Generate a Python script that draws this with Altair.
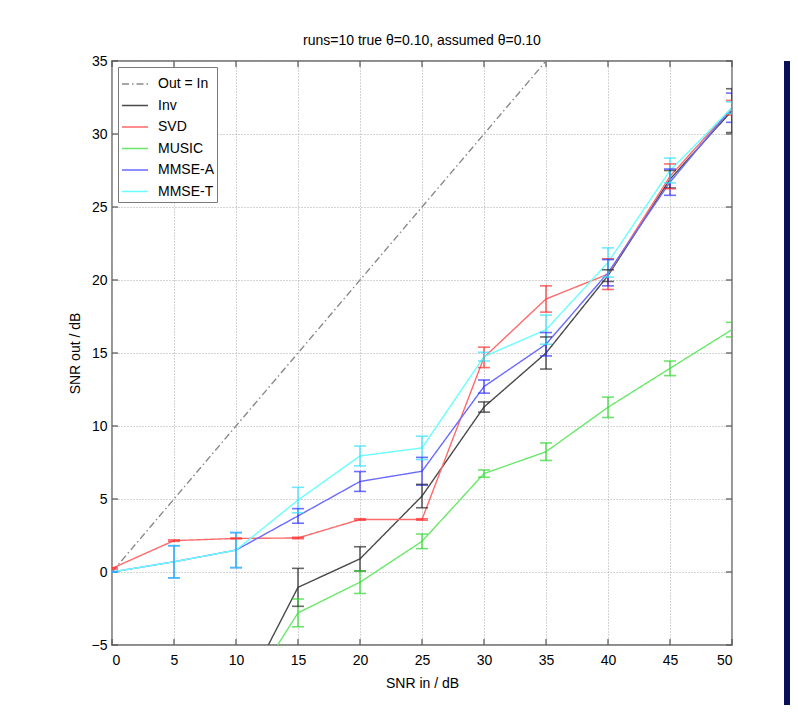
import altair as alt
import pandas as pd

FONT = "Liberation Sans"

# ---------------- data ----------------
snr = [0, 5, 10, 15, 20, 25, 30, 35, 40, 45, 50]
snr_low_cut = [10, 15, 20, 25, 30, 35, 40, 45, 50]

ref_x = [0, 35]
ref_y = [0, 35]

inv = [-9.3, -1.05, 0.9, 5.2, 11.3, 15.0, 20.3, 26.9, 31.6]
inv_err = [1.5, 1.3, 0.83, 0.8, 0.35, 1.1, 0.4, 0.6, 1.5]

svd = [0.25, 2.15, 2.3, 2.33, 3.6, 3.6, 14.7, 18.7, 20.4, 27.1, 31.8]
svd_err = [0.05, 0.05, 0.03, 0.05, 0.05, 0.05, 0.7, 0.9, 1.05, 0.85, 0.5]

music = [-9.5, -2.8, -0.7, 2.1, 6.74, 8.24, 11.28, 13.95, 16.6]
music_err = [1.5, 0.95, 0.77, 0.5, 0.25, 0.6, 0.7, 0.5, 0.5]

mmse_a = [0.0, 0.7, 1.5, 3.84, 6.2, 6.9, 12.7, 15.6, 20.5, 26.7, 31.8]
mmse_a_err = [0.0, 1.1, 1.2, 0.5, 0.68, 0.95, 0.45, 0.8, 0.9, 0.9, 1.0]

mmse_t = [0.0, 0.7, 1.5, 4.93, 7.95, 8.5, 14.75, 16.6, 21.2, 27.5, 31.8]
mmse_t_err = [0.0, 1.1, 1.2, 0.87, 0.68, 0.8, 0.3, 1.0, 1.0, 0.85, 0.4]

series_names = ["Out = In", "Inv", "SVD", "MUSIC", "MMSE-A", "MMSE-T"]
line_colors = ["#8a8a8a", "#4a4a4a", "#ff6a6a", "#6ae86a", "#6a6aff", "#6affff"]
err_colors = ["#8a8a8a", "#2a2a2a", "#ff3030", "#30d830", "#3030ff", "#30e0ff"]
dashes = [[7, 3, 1.5, 3], [1, 0], [1, 0], [1, 0], [1, 0], [1, 0]]

x_ticks = [0, 5, 10, 15, 20, 25, 30, 35, 40, 45, 50]
y_ticks = [-5, 0, 5, 10, 15, 20, 25, 30, 35]

title_text = "runs=10 true \u03b8=0.10, assumed \u03b8=0.10"

# ---------------- tables ----------------
rows = []
errs = []
def add(name, xs, ys, es=None):
    for i, (xv, yv) in enumerate(zip(xs, ys)):
        rows.append({"series": name, "x": xv, "y": yv, "order": i})
        if es is not None:
            e = es[i]
            if yv - e > -5:
                errs.append({"series": name, "x": xv, "lo": yv - e, "hi": yv + e})

add("Out = In", ref_x, ref_y)
add("Inv", snr_low_cut, inv, inv_err)
add("SVD", snr, svd, svd_err)
add("MUSIC", snr_low_cut, music, music_err)
add("MMSE-A", snr, mmse_a, mmse_a_err)
add("MMSE-T", snr, mmse_t, mmse_t_err)

lines_df = pd.DataFrame(rows)
err_df = pd.DataFrame(errs)
xt_df = pd.DataFrame({"t": x_ticks})
yt_df = pd.DataFrame({"t": y_ticks})

W, H = 620, 584

xscale = alt.Scale(domain=[0, 50], nice=False, zero=False)
yscale = alt.Scale(domain=[-5, 35], nice=False, zero=False)

xaxis = alt.Axis(values=x_ticks, title="SNR in / dB", grid=True, ticks=False,
                 domain=False, labelPadding=8, titlePadding=9, format="d")
yaxis = alt.Axis(values=y_ticks, title="SNR out / dB", grid=True, ticks=False,
                 domain=False, labelPadding=5, titlePadding=9, format="d")

legend = alt.Legend(
    title=None, orient="none", legendX=6, legendY=6,
    fillColor="white", strokeColor="#7a7a7a", padding=3,
    symbolType="stroke", symbolSize=676, symbolStrokeWidth=1.6,
    labelFont=FONT, labelFontSize=14, labelColor="black",
    labelOffset=9, rowPadding=0.5,
)

base_lines = alt.Chart(lines_df).mark_line(strokeWidth=1.4, clip=True).encode(
    x=alt.X("x:Q", scale=xscale, axis=xaxis),
    y=alt.Y("y:Q", scale=yscale, axis=yaxis),
    color=alt.Color("series:N", scale=alt.Scale(domain=series_names, range=line_colors),
                    legend=legend, sort=series_names),
    strokeDash=alt.StrokeDash("series:N", scale=alt.Scale(domain=series_names, range=dashes),
                              legend=legend, sort=series_names),
    order="order:Q",
    detail="series:N",
)

ecolor = alt.Color("series:N", scale=alt.Scale(domain=series_names, range=err_colors), legend=None)

err_rule = alt.Chart(err_df).mark_rule(strokeWidth=1.2, clip=True).encode(
    x=alt.X("x:Q", scale=xscale),
    y=alt.Y("lo:Q", scale=yscale),
    y2="hi:Q",
    color=ecolor,
)
err_lo = alt.Chart(err_df).mark_tick(orient="horizontal", size=12, thickness=1.6, clip=True).encode(
    x=alt.X("x:Q", scale=xscale),
    y=alt.Y("lo:Q", scale=yscale),
    color=ecolor,
)
err_hi = alt.Chart(err_df).mark_tick(orient="horizontal", size=12, thickness=1.6, clip=True).encode(
    x=alt.X("x:Q", scale=xscale),
    y=alt.Y("hi:Q", scale=yscale),
    color=ecolor,
)

tick_col = "#555555"
xt_top = alt.Chart(xt_df).mark_rule(color=tick_col, strokeWidth=1.2).encode(
    x=alt.X("t:Q", scale=xscale), y=alt.value(0), y2=alt.value(6))
xt_bot = alt.Chart(xt_df).mark_rule(color=tick_col, strokeWidth=1.2).encode(
    x=alt.X("t:Q", scale=xscale), y=alt.value(H - 6), y2=alt.value(H))
yt_left = alt.Chart(yt_df).mark_rule(color=tick_col, strokeWidth=1.2).encode(
    y=alt.Y("t:Q", scale=yscale), x=alt.value(0), x2=alt.value(6))
yt_right = alt.Chart(yt_df).mark_rule(color=tick_col, strokeWidth=1.2).encode(
    y=alt.Y("t:Q", scale=yscale), x=alt.value(W - 6), x2=alt.value(W))

# decorative navy frame strip at the right edge of the page
frame_right = alt.Chart(xt_df.head(1)).mark_rect(color="#0a0f5a").encode(
    x=alt.value(672), x2=alt.value(680), y=alt.value(0), y2=alt.value(H + 70))

chart = alt.layer(
    frame_right, xt_top, xt_bot, yt_left, yt_right,
    base_lines, err_rule, err_lo, err_hi,
).resolve_scale(color="independent", strokeDash="independent").properties(
    width=W, height=H,
    title=alt.TitleParams(title_text, font=FONT, fontSize=14, fontWeight="normal",
                          color="black", offset=6, anchor="middle", frame="group"),
    autosize=alt.AutoSizeParams(type="none"),
    padding={"left": 104, "top": 53, "right": 58, "bottom": 60},
    background="white",
).configure_view(
    stroke="#8a8a8a", strokeWidth=1.8,
).configure_axis(
    labelFont=FONT, labelFontSize=14, labelColor="black",
    titleFont=FONT, titleFontSize=14, titleColor="black", titleFontWeight="normal",
    gridColor="#a8a8a8", gridDash=[1, 2], gridWidth=1, gridOpacity=1,
)

chart.save("out.html", embed_options={"renderer": "svg", "actions": False})
